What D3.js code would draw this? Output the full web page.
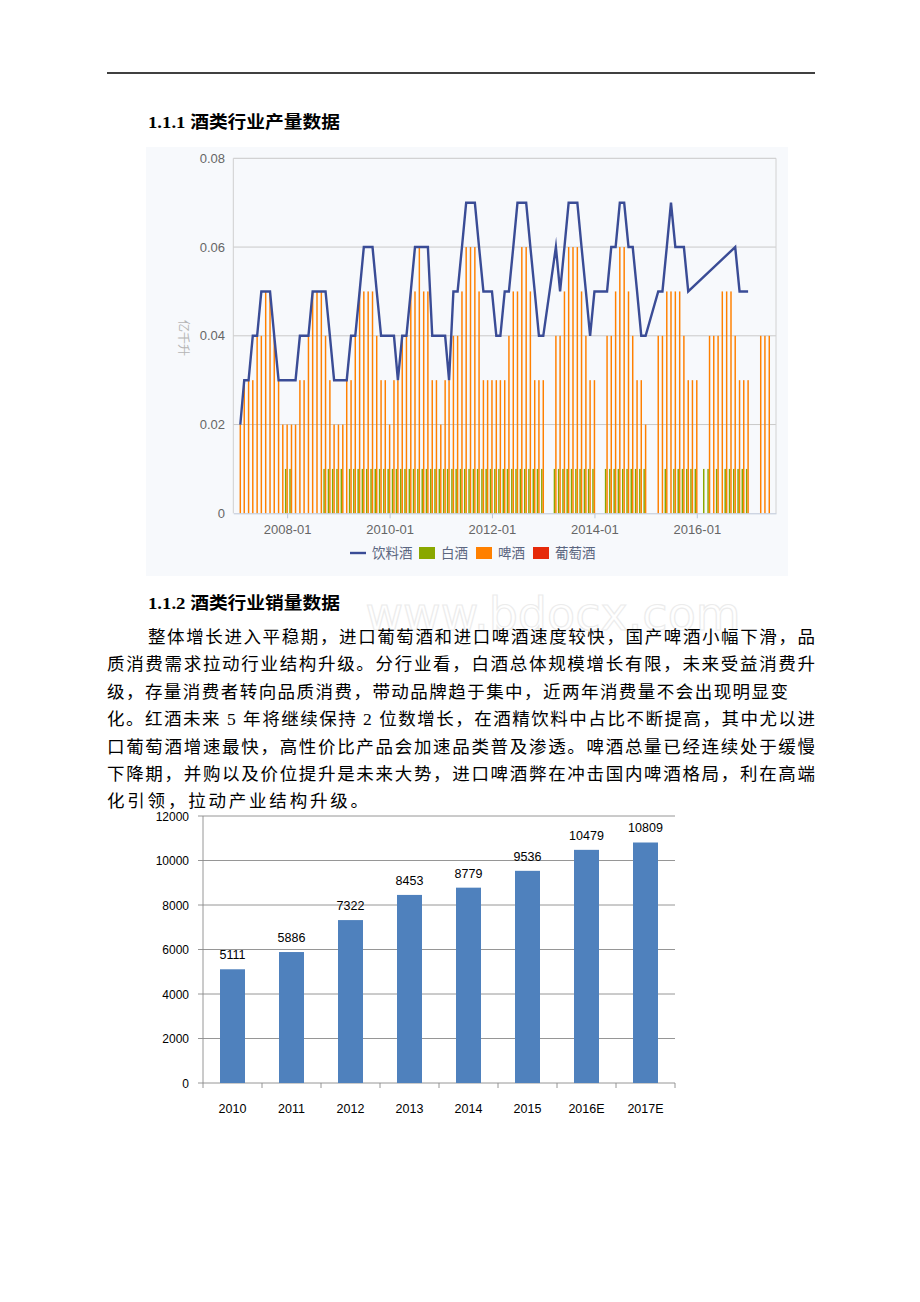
<!DOCTYPE html>
<html><head><meta charset="utf-8">
<script src="https://cdn.jsdelivr.net/npm/d3@7"></script>
<style>body{margin:0;background:#fff}svg{display:block}</style>
</head><body>
<svg id="page" width="920" height="1302"></svg>
<script>
const _ = null;
// ---- chart 1 data (monthly, first month 2007-02) ----
const firstMonth = "2007-02";
const beverage = [
 0.02,0.03,0.03,0.04,0.04,0.05,0.05,0.05,0.04,0.03,
 0.03,0.03,0.03,0.03,0.04,0.04,0.04,0.05,0.05,0.05,
 0.05,0.04,0.03,0.03,0.03,0.03,0.04,0.04,0.05,0.06,
 0.06,0.06,0.05,0.04,0.04,0.04,0.04,0.03,0.04,0.04,
 0.05,0.06,0.06,0.06,0.06,0.04,0.04,0.04,0.04,0.03,
 0.05,0.05,0.06,0.07,0.07,0.07,0.06,0.05,0.05,0.05,
 0.04,0.04,0.05,0.05,0.06,0.07,0.07,0.07,0.06,0.05,
 0.04,0.04,_,_,0.06,0.05,0.06,0.07,0.07,0.07,
 0.06,0.05,0.04,0.05,_,_,0.05,0.06,0.06,0.07,
 0.07,0.06,0.06,0.05,0.04,0.04,_,_,0.05,0.05,
 0.06,0.07,0.06,0.06,0.06,0.05,_,_,_,_,
 _,_,_,_,_,_,0.06,0.05,0.05,0.05,
 _,_,_,_,_];
const beer = [
 0.02,0.03,0.03,0.03,0.04,0.04,0.05,0.05,0.04,0.03,
 0.02,0.02,0.02,0.02,0.03,0.03,0.04,0.05,0.05,0.05,
 0.04,0.03,0.02,0.02,0.02,0.03,0.03,0.04,0.05,0.05,
 0.05,0.05,0.04,0.03,0.03,0.02,0.03,0.03,0.04,0.04,
 0.05,0.05,0.06,0.05,0.05,0.03,0.03,0.02,0.03,0.03,
 0.04,0.04,0.05,0.06,0.06,0.06,0.05,0.03,0.03,0.03,
 0.03,0.03,0.03,0.04,0.05,0.05,0.06,0.06,0.05,0.03,
 0.03,0.03,_,_,0.04,0.04,0.05,0.06,0.06,0.06,
 0.05,0.04,0.03,0.03,_,_,0.04,0.04,0.05,0.06,
 0.06,0.05,0.04,0.03,0.03,0.02,_,_,0.04,0.04,
 0.05,0.05,0.05,0.05,0.04,0.03,0.03,0.03,_,_,
 0.04,0.04,0.04,0.05,0.05,0.05,0.04,0.03,0.03,0.03,
 _,_,0.04,0.04,0.04];
const baijiu = [
 _,_,_,_,_,_,_,_,_,_,
 _,0.01,0.01,_,_,_,_,_,_,_,
 0.01,0.01,0.01,0.01,0.01,_,0.01,0.01,0.01,0.01,
 0.01,0.01,0.01,0.01,0.01,0.01,0.01,0.01,0.01,0.01,
 0.01,0.01,0.01,0.01,0.01,0.01,0.01,0.01,0.01,0.01,
 0.01,0.01,0.01,0.01,0.01,0.01,0.01,0.01,0.01,0.01,
 0.01,0.01,0.01,0.01,0.01,0.01,0.01,0.01,0.01,0.01,
 0.01,0.01,_,_,0.01,0.01,0.01,0.01,0.01,0.01,
 0.01,0.01,0.01,0.01,_,_,0.01,0.01,0.01,0.01,
 0.01,0.01,0.01,0.01,0.01,0.01,_,_,_,_,
 0.01,_,0.01,0.01,0.01,0.01,0.01,0.01,_,0.01,
 0.01,_,0.01,_,0.01,0.01,0.01,0.01,0.01,0.01,
 _,_,_,_,_];
const seriesNames = ["饮料酒","白酒","啤酒","葡萄酒"];
const seriesColors = ["#3a4c96","#8aa800","#ff8000","#e62a0a"];
const yTicks1 = [0,0.02,0.04,0.06,0.08];
const xTickDates = ["2008-01","2010-01","2012-01","2014-01","2016-01"];
const yTitle1 = "亿千升";

// ---- chart 2 data ----
const salesYears = ["2010","2011","2012","2013","2014","2015","2016E","2017E"];
const salesValues = [5111,5886,7322,8453,8779,9536,10479,10809];
const yTicks2 = [0,2000,4000,6000,8000,10000,12000];

// ---- text ----
const heading1 = "1.1.1 酒类行业产量数据";
const heading2 = "1.1.2 酒类行业销量数据";
const paraLines = [
 "整体增长进入平稳期，进口葡萄酒和进口啤酒速度较快，国产啤酒小幅下滑，品",
 "质消费需求拉动行业结构升级。分行业看，白酒总体规模增长有限，未来受益消费升",
 "级，存量消费者转向品质消费，带动品牌趋于集中，近两年消费量不会出现明显变",
 "化。红酒未来 5 年将继续保持 2 位数增长，在酒精饮料中占比不断提高，其中尤以进",
 "口葡萄酒增速最快，高性价比产品会加速品类普及渗透。啤酒总量已经连续处于缓慢",
 "下降期，并购以及价位提升是未来大势，进口啤酒弊在冲击国内啤酒格局，利在高端",
 "化引领，拉动产业结构升级。"
];

const svg = d3.select("#page");
const serif = "'Liberation Serif','Noto Sans CJK SC',serif";
const cjk = "'Liberation Serif','Noto Sans CJK SC',sans-serif";

// header rule
svg.append("line").attr("x1",107).attr("x2",815).attr("y1",73).attr("y2",73)
  .attr("stroke","#000").attr("stroke-width",1.5);

// headings
[[heading1,128],[heading2,609]].forEach(([t,yb])=>{
  svg.append("text").attr("x",148).attr("y",yb).text(t)
    .attr("font-family",serif).attr("font-weight","bold").attr("font-size",17.5)
    .attr("textLength",192).attr("lengthAdjust","spacingAndGlyphs").attr("fill","#000");
});

// watermark
svg.append("text").attr("x",553).attr("y",630).attr("text-anchor","middle")
  .attr("font-family","'DejaVu Sans',sans-serif").attr("font-size",46)
  .attr("fill","none").attr("stroke","#ececec").attr("stroke-width",1.2)
  .text("www.bdocx.com");

// paragraph
const lineStarts = [148,107,107,107,107,107,107];
const lineEnds = [815,815,788,815,815,815,368];
paraLines.forEach((t,i)=>{
  svg.append("text").attr("x",lineStarts[i]).attr("y",643+i*27.4)
    .attr("font-family",cjk).attr("font-size",17.5).attr("fill","#000")
    .attr("textLength",lineEnds[i]-lineStarts[i]).attr("lengthAdjust","spacing")
    .text(t);
});

// ================= chart 1 =================
const g1 = svg.append("g");
g1.append("rect").attr("x",146).attr("y",147).attr("width",642).attr("height",429).attr("fill","#f7f9fc");
const parseM = d3.timeParse("%Y-%m");
const m0 = parseM(firstMonth);
const months = beverage.map((d,i)=>d3.timeMonth.offset(m0,i));
const x1 = d3.scaleTime().domain([new Date(2006,11,13), new Date(2017,6,19)]).range([233.3,776]);
const y1 = d3.scaleLinear().domain([0,0.08]).range([513.3,158.3]);

// gridlines
g1.selectAll(".grid").data(yTicks1.filter(d=>d>0)).join("line")
  .attr("x1",233.3).attr("x2",776).attr("y1",d=>y1(d)).attr("y2",d=>y1(d))
  .attr("stroke","#c9c9c9").attr("stroke-width",1);
g1.append("line").attr("x1",776).attr("x2",776).attr("y1",y1(0.08)).attr("y2",y1(0))
  .attr("stroke","#d2d2d2");
g1.append("line").attr("x1",233.3).attr("x2",233.3).attr("y1",y1(0.08)).attr("y2",y1(0))
  .attr("stroke","#cfcfcf");

// bars
const sub = d3.scaleBand().domain(["白酒","啤酒","葡萄酒"]).range([-2.2,2.2]);
const bw = sub.bandwidth();
const barData = [];
months.forEach((m,i)=>{
  if (baijiu[i]!=null) barData.push({m, s:"白酒", v:baijiu[i], c:seriesColors[1]});
  if (beer[i]!=null) barData.push({m, s:"啤酒", v:beer[i], c:seriesColors[2]});
});
g1.selectAll(".bar").data(barData).join("rect")
  .attr("x",d=>x1(d.m)+sub(d.s)).attr("width",bw)
  .attr("y",d=>y1(d.v)).attr("height",d=>y1(0)-y1(d.v))
  .attr("fill",d=>d.c);

// x axis
const ax1 = d3.axisBottom(x1).tickValues(xTickDates.map(parseM))
  .tickFormat(d3.timeFormat("%Y-%m")).tickSize(5).tickSizeOuter(0);
const gx1 = g1.append("g").attr("transform",`translate(0,${y1(0)})`).call(ax1);
gx1.select(".domain").attr("stroke","#bcc7d8");
gx1.selectAll(".tick line").attr("stroke","#bcc7d8");
gx1.selectAll("text").attr("fill","#666").attr("font-size",13)
  .attr("font-family","'Liberation Sans',Arial,sans-serif").attr("dy","0.95em");

// y labels
g1.selectAll(".ylab").data(yTicks1).join("text")
  .attr("x",225).attr("y",d=>y1(d)).attr("dy","0.35em").attr("text-anchor","end")
  .attr("fill","#666").attr("font-size",13).attr("font-family","'Liberation Sans',Arial,sans-serif")
  .text(d=>d===0?"0":d3.format(".2f")(d));
g1.append("text").attr("transform","translate(179,338) rotate(90)").attr("text-anchor","middle")
  .attr("fill","#b5b5b5").attr("font-size",12).attr("font-family","'Noto Sans CJK SC',sans-serif")
  .text(yTitle1);

// line
const linePts = months.map((m,i)=>({m, v:beverage[i]})).filter(d=>d.v!=null);
g1.append("path").datum(linePts)
  .attr("d",d3.line().x(d=>x1(d.m)).y(d=>y1(d.v)))
  .attr("fill","none").attr("stroke",seriesColors[0]).attr("stroke-width",2.4)
  .attr("stroke-linejoin","miter").attr("stroke-miterlimit",10);

// legend
const leg = g1.append("g").attr("font-family","'Noto Sans CJK SC',sans-serif").attr("font-size",13.5);
const legItems = [
  {name:seriesNames[0], c:seriesColors[0], x:350, type:"line"},
  {name:seriesNames[1], c:seriesColors[1], x:419, type:"rect"},
  {name:seriesNames[2], c:seriesColors[2], x:476, type:"rect"},
  {name:seriesNames[3], c:seriesColors[3], x:533, type:"rect"}
];
legItems.forEach(d=>{
  if (d.type==="line") {
    leg.append("line").attr("x1",d.x).attr("x2",d.x+16).attr("y1",553).attr("y2",553)
      .attr("stroke",d.c).attr("stroke-width",2.4);
  } else {
    leg.append("rect").attr("x",d.x).attr("y",547).attr("width",16).attr("height",12).attr("fill",d.c);
  }
  leg.append("text").attr("x",d.x+22).attr("y",553).attr("dy","0.36em")
    .attr("fill","#5b6680").text(d.name);
});

// ================= chart 2 =================
const g2 = svg.append("g");
const x2 = d3.scaleBand().domain(salesYears).range([203,675]);
const y2 = d3.scaleLinear().domain([0,12000]).range([1083,816]);
const barW = 25;
g2.selectAll(".g2").data(yTicks2).join("line")
  .attr("x1",203).attr("x2",675).attr("y1",d=>y2(d)).attr("y2",d=>y2(d))
  .attr("stroke","#8a8a8a").attr("stroke-width",0.9);
g2.append("line").attr("x1",203).attr("x2",203).attr("y1",y2(12000)).attr("y2",y2(0))
  .attr("stroke","#8a8a8a").attr("stroke-width",0.9);
g2.selectAll(".ytk").data(yTicks2).join("line")
  .attr("x1",198).attr("x2",203).attr("y1",d=>y2(d)).attr("y2",d=>y2(d))
  .attr("stroke","#8a8a8a").attr("stroke-width",0.9);
g2.selectAll(".xtk").data(salesYears.concat(["end"])).join("line")
  .attr("x1",(d,i)=>203+i*x2.step()).attr("x2",(d,i)=>203+i*x2.step())
  .attr("y1",y2(0)).attr("y2",y2(0)+5).attr("stroke","#8a8a8a").attr("stroke-width",0.9);
g2.selectAll(".b2").data(salesValues).join("rect")
  .attr("x",(d,i)=>x2(salesYears[i])+(x2.bandwidth()-barW)/2).attr("width",barW)
  .attr("y",d=>y2(d)).attr("height",d=>y2(0)-y2(d)).attr("fill","#4f81bd");
const f2 = "'Liberation Sans',Arial,sans-serif";
g2.selectAll(".vl").data(salesValues).join("text")
  .attr("x",(d,i)=>x2(salesYears[i])+x2.bandwidth()/2).attr("y",d=>y2(d)-10)
  .attr("text-anchor","middle").attr("font-family",f2).attr("font-size",12.5).attr("fill","#000")
  .text(d=>d);
g2.selectAll(".xl").data(salesYears).join("text")
  .attr("x",d=>x2(d)+x2.bandwidth()/2).attr("y",1113)
  .attr("text-anchor","middle").attr("font-family",f2).attr("font-size",12.5).attr("fill","#000")
  .text(d=>d);
g2.selectAll(".yl").data(yTicks2).join("text")
  .attr("x",189).attr("y",d=>y2(d)).attr("dy","0.38em")
  .attr("text-anchor","end").attr("font-family",f2).attr("font-size",12).attr("fill","#000")
  .text(d=>d);
</script>
</body></html>
